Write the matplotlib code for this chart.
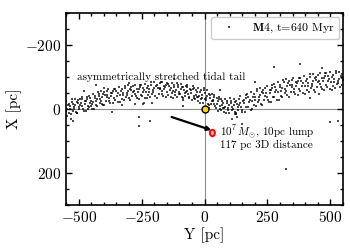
import numpy as np
import matplotlib
matplotlib.use("Agg")
import matplotlib.pyplot as plt
from matplotlib.patches import Ellipse
from matplotlib.ticker import MultipleLocator

plt.rcParams['font.family'] = 'serif'
plt.rcParams['font.serif'] = ['cmr10', 'DejaVu Serif']
plt.rcParams['mathtext.fontset'] = 'cm'
plt.rcParams['axes.formatter.use_mathtext'] = True

# tail particle positions: Y [pc] and X [pc]
tail_Y = [
    -550,-542,-547,-538,-545,-540,-551,
    -526,-534,-522,-531,-528,-536,-524,
    -515,-508,-520,-511,-518,-514,-507,
    -494,-502,-498,-506,-493,-504,-497,
    -488,-477,-486,-480,-491,-483,-489,
    -467,-475,-464,-470,-466,-472,-463,
    -461,-450,-454,-459,-447,-456,-451,
    -445,-437,-442,-433,-440,-435,-446,
    -421,-429,-417,-426,-423,-431,-419,
    -410,-403,-415,-406,-413,-409,-402,
    -389,-397,-393,-401,-388,-399,
    -383,-372,-381,-375,-386,-378,
    -362,-370,-359,-365,-361,-367,
    -356,-345,-349,-354,-342,-351,
    -340,-332,-337,-328,-335,-330,
    -316,-324,-312,-321,-318,-326,
    -305,-298,-310,-301,-308,-304,
    -284,-292,-288,-296,-283,-294,
    -278,-267,-276,-270,-281,-273,
    -257,-265,-254,-260,-256,-262,
    -251,-240,-244,-249,-237,-246,
    -235,-227,-232,-223,-230,-225,
    -211,-219,-207,-216,-213,-221,
    -200,-193,-205,-196,-203,-199,
    -179,-187,-183,-191,-178,-189,
    -173,-162,-171,-165,-176,-168,
    -152,-160,-149,-155,-151,-157,
    -146,-135,-139,-144,-132,-141,
    -130,-122,-127,-118,-125,-120,-131,
    -106,-114,-102,-111,-108,-116,-104,
    -95,-88,-100,-91,-98,-94,-87,
    -74,-82,-78,-86,-73,-84,-77,
    -68,-57,-66,-60,-71,-63,-69,
    -47,-55,-44,-50,-46,-52,-43,
    -41,-30,-34,-39,-27,-36,-31,
    -25,-17,-22,-13,-20,-15,-26,
    -1,-9,3,-6,-3,-11,1,
    10,17,5,14,7,11,18,
    31,23,27,19,32,21,28,
    37,48,39,45,34,42,36,
    58,50,61,55,59,53,62,
    64,75,71,66,78,69,74,
    80,88,83,92,85,90,79,
    104,96,108,99,102,94,106,
    115,122,110,119,112,116,123,
    136,128,132,124,137,126,133,
    142,153,144,150,139,147,
    163,155,166,160,164,158,
    169,180,176,171,183,174,
    185,193,188,197,190,195,
    209,201,213,204,207,199,
    220,227,215,224,217,221,
    241,233,237,229,242,231,
    247,258,249,255,244,252,
    268,260,271,265,269,263,
    274,285,281,276,288,279,
    290,298,293,302,295,300,
    314,306,318,309,312,304,
    325,332,320,329,322,326,
    346,338,342,334,347,336,
    352,363,354,360,349,357,
    373,365,376,370,374,368,
    379,390,386,381,393,384,
    395,403,398,407,400,405,
    419,411,423,414,417,409,
    430,437,425,434,427,431,
    451,443,447,439,452,441,
    457,468,459,465,454,462,
    478,470,481,475,479,473,
    484,495,491,486,498,489,
    500,508,503,512,505,510,
    524,516,528,519,522,514,
    535,542,530,539,532,536,
    546,549,547,545,
]
tail_X = [
    -24,-11,1,12,22,-17,6,
    -23,-8,5,15,-30,0,-16,
    -32,-21,-7,9,-1,-14,14,
    -31,-18,1,14,-12,-27,-7,
    -37,-25,-8,5,-18,-1,-31,
    -31,-17,-8,6,-38,-25,-1,
    -40,-26,-19,-6,0,-33,-10,
    -47,-34,-22,-11,-1,-40,-17,
    -47,-32,-19,-9,-54,-24,-40,
    -57,-46,-32,-16,-26,-39,-11,
    -56,-43,-24,-11,-37,-52,
    -62,-50,-33,-20,-43,-26,
    -56,-42,-33,-19,-63,-50,
    -63,-49,-42,-29,-23,-56,
    -68,-55,-43,-32,-22,-61,
    -66,-51,-38,-28,-73,-43,
    -74,-63,-49,-33,-43,-56,
    -72,-59,-40,-27,-53,-68,
    -76,-64,-47,-34,-57,-40,
    -68,-54,-45,-31,-75,-62,
    -74,-60,-53,-40,-34,-67,
    -79,-66,-54,-43,-33,-72,
    -76,-61,-48,-38,-83,-53,
    -83,-72,-58,-42,-52,-65,
    -80,-67,-48,-35,-61,-76,
    -84,-72,-55,-42,-65,-48,
    -75,-61,-52,-38,-82,-69,
    -79,-65,-58,-45,-39,-72,
    -81,-68,-56,-45,-35,-74,-51,
    -75,-60,-47,-37,-82,-52,-68,
    -79,-68,-54,-38,-48,-61,-33,
    -73,-60,-41,-28,-54,-69,-49,
    -75,-63,-46,-33,-56,-39,-69,
    -64,-50,-41,-27,-71,-58,-34,
    -66,-52,-45,-32,-26,-59,-36,
    -66,-53,-41,-30,-20,-59,-36,
    -58,-43,-30,-20,-65,-35,-51,
    -58,-47,-33,-17,-27,-40,-12,
    -48,-35,-16,-3,-29,-44,-24,
    -45,-33,-16,-3,-26,-9,-39,
    -31,-17,-8,6,-38,-25,-1,
    -32,-18,-11,2,8,-25,-2,
    -32,-19,-7,4,14,-25,-2,
    -26,-11,2,12,-33,-3,-19,
    -32,-21,-7,9,-1,-14,14,
    -30,-17,2,15,-11,-26,-6,
    -41,-26,-6,10,-18,3,
    -35,-18,-7,10,-43,-28,
    -46,-29,-21,-5,2,-37,
    -54,-39,-24,-11,1,-46,
    -55,-37,-21,-9,-63,-27,
    -66,-53,-36,-17,-29,-44,
    -65,-49,-27,-11,-42,-60,
    -73,-58,-38,-22,-50,-29,
    -66,-49,-38,-21,-74,-59,
    -77,-60,-52,-36,-29,-68,
    -84,-69,-54,-41,-29,-76,
    -84,-66,-50,-38,-92,-56,
    -94,-81,-64,-45,-57,-72,
    -92,-76,-54,-38,-69,-87,
    -98,-83,-63,-47,-75,-54,
    -89,-72,-61,-44,-97,-82,
    -97,-80,-72,-56,-49,-88,
    -102,-87,-72,-59,-47,-94,
    -100,-82,-66,-54,-108,-72,
    -109,-96,-79,-60,-72,-87,
    -106,-90,-68,-52,-83,-101,
    -112,-97,-77,-61,-89,-68,
    -103,-86,-75,-58,-111,-96,
    -111,-94,-86,-70,-63,-102,
    -115,-100,-85,-72,-60,-107,
    -111,-93,-77,-65,-119,-83,
    -117,-104,-87,-68,-80,-95,
    -110,-92,-75,-98,
]

# sparse outlying particles
outlier_Y = [-532,-522,-433,-401,-369,-329,-278,-262,-262,-246,-242,-218,-210,-171,
             -87,107,119,128,147,274,456,468,500,532,325,-480,-300,-120,60,200,380,420]
outlier_X = [31,36,-75,-66,9,-12,-16,25,53,-16,-19,37,-19,-84,
             -9,31,16,24,47,-131,-47,-128,41,37,187,-55,-80,-95,-60,-85,-140,-35]

cluster_pos = (0, 0)           # (Y, X)
lump_pos = (31, 75)            # (Y, X)
lump_size = 20                 # pc
arrow_start = (-131, 25)
arrow_end = (27, 66)

legend_label = r"$\mathbf{M4}$, t=640 Myr"
tail_text = "asymmetrically stretched tidal tail"
lump_text = "$10^7\\,M_{\\odot}$, 10pc lump\n117 pc 3D distance"

fig = plt.figure(figsize=(3.5, 2.5), dpi=100)
ax = fig.add_axes([0.189, 0.18, 0.791, 0.768])

Y = np.array(tail_Y + outlier_Y, dtype=float)
X = np.array(tail_X + outlier_X, dtype=float)
ax.axhline(0, color='0.55', lw=0.8, zorder=1)
ax.axvline(0, color='0.55', lw=0.8, zorder=1)
ax.scatter(Y, X, s=4.5, c='k', alpha=0.7, lw=0, marker='s',
           zorder=2, label=legend_label)

ax.plot(*cluster_pos, 'o', ms=5, mfc='gold', mec='k', mew=1.0, zorder=5)
ax.add_patch(Ellipse(lump_pos, width=lump_size, height=lump_size,
                     facecolor='lightsteelblue', edgecolor='red', lw=1.4, zorder=5))
ax.annotate('', xy=arrow_end, xytext=arrow_start,
            arrowprops=dict(arrowstyle='-|>', color='k', lw=1.6,
                            mutation_scale=6, shrinkA=0, shrinkB=0), zorder=4)

ax.text(-508, -100, tail_text, fontsize=8, va='center', ha='left')
ax.text(62, 86, lump_text, fontsize=8, va='center', ha='left', linespacing=0.95)

ax.set_xlim(-550, 550)
ax.set_ylim(300, -300)
ax.xaxis.set_major_locator(MultipleLocator(250))
ax.xaxis.set_minor_locator(MultipleLocator(50))
ax.yaxis.set_major_locator(MultipleLocator(200))
ax.yaxis.set_minor_locator(MultipleLocator(50))
ax.tick_params(which='both', direction='in', top=True, right=True, labelsize=11, width=1.0)
ax.tick_params(which='major', length=4)
ax.tick_params(which='minor', length=2)
for sp in ax.spines.values():
    sp.set_linewidth(1.2)

ax.set_xlabel('Y [pc]', fontsize=11, labelpad=2)
ax.set_ylabel('X [pc]', fontsize=11, labelpad=2)

leg = ax.legend(loc='upper right', fontsize=8.5, markerscale=0.8, handlelength=2.2,
                borderpad=0.4, framealpha=1, edgecolor='0.8', fancybox=True,
                borderaxespad=0.3)

fig.savefig('out.png', dpi=100)
